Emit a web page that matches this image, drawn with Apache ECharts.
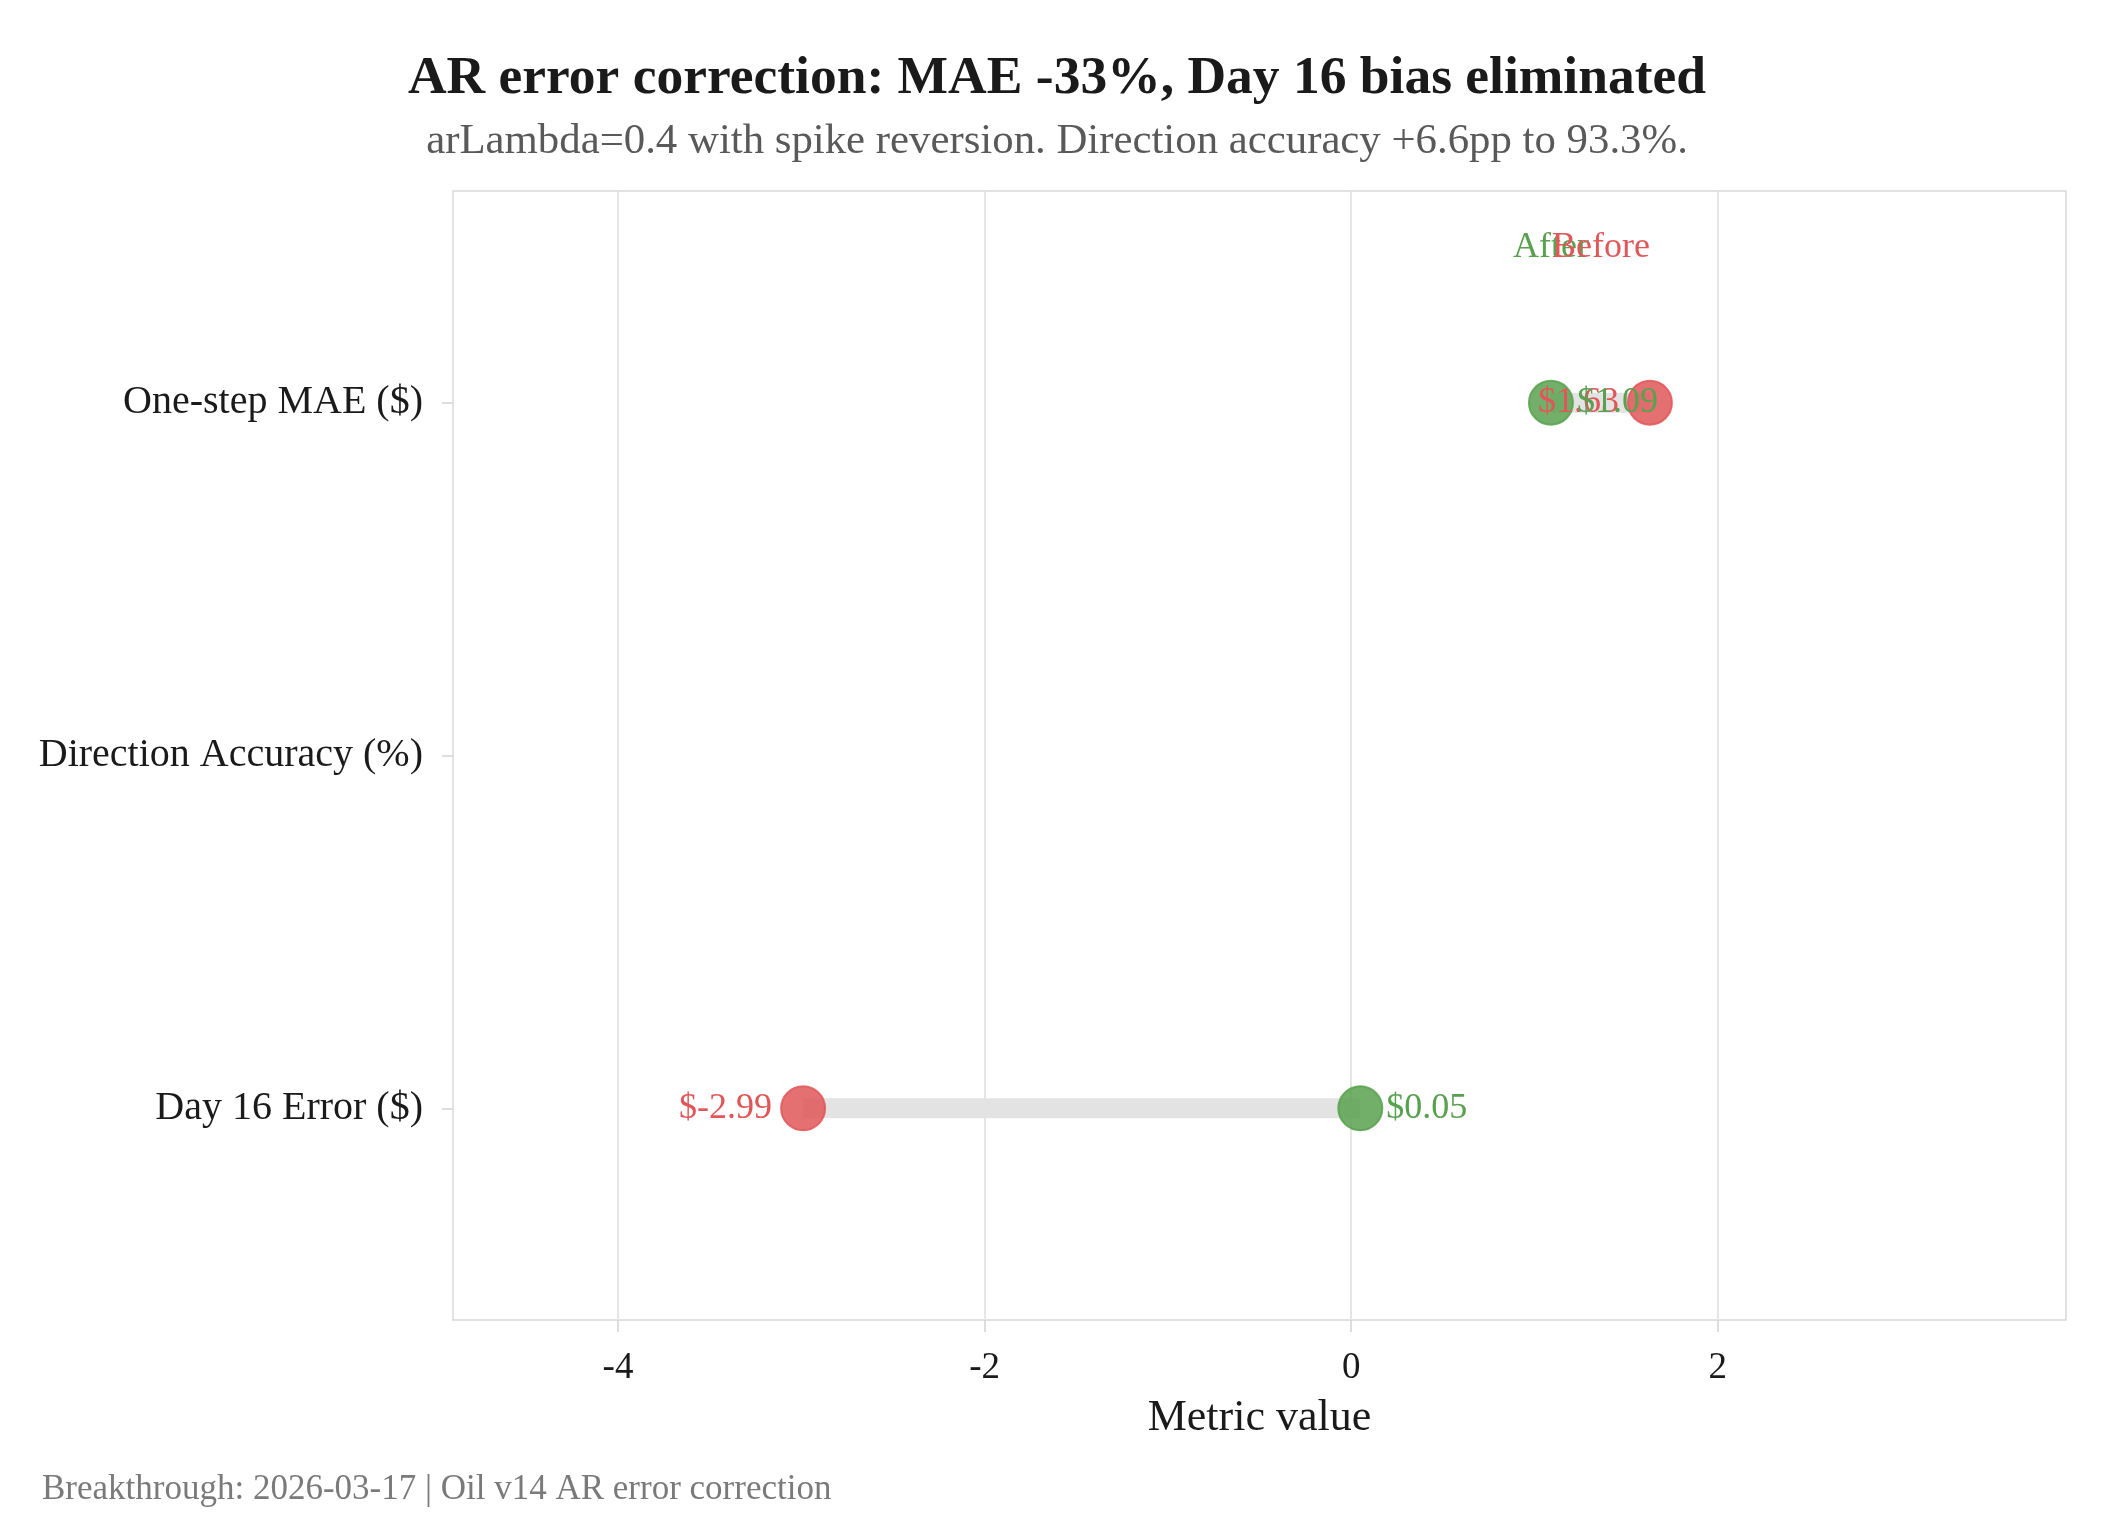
<!DOCTYPE html>
<html><head><meta charset="utf-8">
<script src="https://cdn.jsdelivr.net/npm/echarts@6/dist/echarts.min.js"></script>
<style>html,body{margin:0;padding:0;background:#fff}#c{width:2125px;height:1535px}</style>
</head><body><div id="c"></div>
<script>
// ---- data ----
const categories = ['One-step MAE ($)', 'Direction Accuracy (%)', 'Day 16 Error ($)'];
const beforeValues = [1.63, 86.7, -2.99];
const afterValues = [1.09, 93.3, 0.05];
const beforeLabels = ['$1.63', '86.7%', '$-2.99'];
const afterLabels = ['$1.09', '93.3%', '$0.05'];
const xTicks = [-4, -2, 0, 2];
const yTicks = [0, 1, 2];
const headerTexts = ['After', 'Before'];
const titleText = 'AR error correction: MAE -33%, Day 16 bias eliminated';
const subtitleText = 'arLambda=0.4 with spike reversion. Direction accuracy +6.6pp to 93.3%.';
const captionText = 'Breakthrough: 2026-03-17 | Oil v14 AR error correction';

// ---- style ----
const FONT = '"Liberation Serif", "Times New Roman", serif';
const RED = '#E15759', GREEN = '#59A14F';
const HEADER_Y = -0.44;

const chart = echarts.init(document.getElementById('c'), null, {renderer: 'canvas'});

function pointSeries(name, values, fill) {
  return {
    type: 'scatter', name: name, z: 3, symbolSize: 44,
    data: values.map((v, i) => [v, i]),
    itemStyle: {color: fill, borderColor: fill, borderWidth: 2, opacity: 1},
    label: {show: false}
  };
}
function labelSeries(name, values, texts, pos, dist, color) {
  return {
    type: 'scatter', name: name, z: 6, symbolSize: 44, silent: true,
    data: values.map((v, i) => [v, i]),
    itemStyle: {color: 'rgba(0,0,0,0)', borderWidth: 0, opacity: 1},
    label: {show: true, position: pos, distance: dist, formatter: p => texts[p.dataIndex], fontSize: 36, fontFamily: FONT, color: color, opacity: 1}
  };
}

const option = {
  backgroundColor: '#ffffff',
  animation: false,
  graphic: [
    {type: 'text', x: 1057, y: 79, style: {text: titleText, font: 'bold 53.5px ' + FONT, fill: '#1a1a1a', align: 'center', verticalAlign: 'middle'}},
    {type: 'text', x: 1057, y: 142, style: {text: subtitleText, font: '42.8px ' + FONT, fill: '#595959', align: 'center', verticalAlign: 'middle'}},
    {type: 'text', x: 42, y: 1490, style: {text: captionText, font: '35px ' + FONT, fill: '#7a7a7a', align: 'left', verticalAlign: 'middle'}}
  ],
  grid: {left: 453, top: 191, right: 59, bottom: 215, show: true, borderColor: '#d9d9d9', borderWidth: 1.5, backgroundColor: 'transparent'},
  xAxis: {
    type: 'value', min: -4.9, max: 3.9,
    axisLine: {show: false, onZero: false},
    axisTick: {show: true, customValues: xTicks, length: 12, lineStyle: {color: '#d4d4d4', width: 1.5}},
    axisLabel: {customValues: xTicks, margin: 30, fontSize: 37, fontFamily: FONT, color: '#1a1a1a'},
    splitLine: {show: true, lineStyle: {color: '#e5e5e5', width: 2}},
    name: 'Metric value', nameLocation: 'middle', nameGap: 76,
    nameTextStyle: {fontSize: 44, fontFamily: FONT, color: '#1a1a1a'}
  },
  yAxis: {
    type: 'value', inverse: true, min: -0.6, max: 2.6,
    axisLine: {show: false, onZero: false},
    axisTick: {show: true, customValues: yTicks, length: 11, lineStyle: {color: '#d4d4d4', width: 1.5}},
    axisLabel: {customValues: yTicks, formatter: v => categories[Math.round(v)], margin: 30, fontSize: 40, fontFamily: FONT, color: '#1a1a1a'},
    splitLine: {show: false}
  },
  series: [
    {
      type: 'custom', name: 'segment', clip: true, z: 1,
      data: categories.map((c, i) => [beforeValues[i], afterValues[i], i]),
      encode: {x: [0, 1], y: 2},
      renderItem: (params, api) => {
        const i = api.value(2);
        const p1 = api.coord([api.value(0), i]);
        const p2 = api.coord([api.value(1), i]);
        return {type: 'line', shape: {x1: p1[0], y1: p1[1], x2: p2[0], y2: p2[1]}, style: {stroke: '#e3e3e3', lineWidth: 20}};
      }
    },
    pointSeries('Before', beforeValues, 'rgba(225,87,89,0.85)'),
    pointSeries('After', afterValues, 'rgba(89,161,79,0.85)'),
    labelSeries('BeforeLabel', beforeValues, beforeLabels, 'left', 9, RED),
    labelSeries('AfterLabel', afterValues, afterLabels, 'right', 4, GREEN),
    {
      type: 'custom', name: 'header', clip: false, z: 7,
      data: [[afterValues[0], 0], [beforeValues[0], 1]],
      encode: {x: 0},
      renderItem: (params, api) => {
        const k = params.dataIndex;
        const p = api.coord([api.value(0), HEADER_Y]);
        return {type: 'text', x: p[0], y: p[1], style: {text: headerTexts[k], font: '36px ' + FONT, fill: k === 0 ? GREEN : RED, align: k === 0 ? 'center' : 'right', verticalAlign: 'middle'}};
      }
    }
  ]
};
chart.setOption(option);
</script></body></html>
